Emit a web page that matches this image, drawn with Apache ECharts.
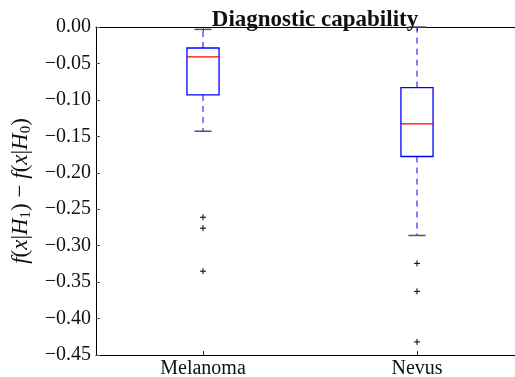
<!DOCTYPE html>
<html>
<head>
<meta charset="utf-8">
<script src="https://cdn.jsdelivr.net/npm/echarts@6/dist/echarts.min.js"></script>
<style>
  html, body { margin: 0; padding: 0; background: #fff; }
  #main { width: 515px; height: 377px; }
</style>
</head>
<body>
<div id="main"></div>
<script>
// categories on the x axis
const categories = ["Melanoma", "Nevus"];
// [lower whisker, Q1, median, Q3, upper whisker]
const melanomaStats = [-0.143, -0.0932, -0.0411, -0.0288, -0.0033];
const nevusStats = [-0.286, -0.1777, -0.133, -0.0832, 0.0];
// fliers
const melanomaOutliers = [-0.261, -0.276, -0.335];
const nevusOutliers = [-0.3243, -0.3627, -0.432];
// y axis
const yMin = -0.45;
const yMax = 0.0;
const yStep = 0.05;

const serif = "Liberation Serif, Times New Roman, serif";

const boxData = [
  [0].concat(melanomaStats),
  [1].concat(nevusStats),
];
const flierData = []
  .concat(melanomaOutliers.map((v) => [0, v]))
  .concat(nevusOutliers.map((v) => [1, v]));

function renderBox(params, api) {
  var x = api.value(0);
  var band = api.size([1, 0])[0];
  var half = band * 0.075;
  var capHalf = band * 0.04;
  var lo = api.coord([x, api.value(1)]);
  var q1 = api.coord([x, api.value(2)]);
  var med = api.coord([x, api.value(3)]);
  var q3 = api.coord([x, api.value(4)]);
  var hi = api.coord([x, api.value(5)]);
  var cx = lo[0];
  var dash = { stroke: "#0000ff", lineWidth: 1, lineDash: [6, 5] };
  var cap = { stroke: "#555", lineWidth: 1.5 };
  return {
    type: "group",
    children: [
      { type: "line", shape: { x1: cx, y1: q3[1], x2: cx, y2: hi[1] }, style: dash },
      { type: "line", shape: { x1: cx, y1: q1[1], x2: cx, y2: lo[1] }, style: dash },
      { type: "line", shape: { x1: cx - capHalf, y1: hi[1], x2: cx + capHalf, y2: hi[1] }, style: cap },
      { type: "line", shape: { x1: cx - capHalf, y1: lo[1], x2: cx + capHalf, y2: lo[1] }, style: cap },
      {
        type: "rect",
        shape: { x: cx - half, y: q3[1], width: half * 2, height: q1[1] - q3[1] },
        style: { fill: "none", stroke: "#0000ff", lineWidth: 1.3 },
      },
      { type: "line", shape: { x1: cx - half, y1: med[1], x2: cx + half, y2: med[1] }, style: { stroke: "#ff0000", lineWidth: 1.3 } },
    ],
  };
}

function renderFlier(params, api) {
  var p = api.coord([api.value(0), api.value(1)]);
  var r = 3;
  var st = { stroke: "#000", lineWidth: 1 };
  return {
    type: "group",
    children: [
      { type: "line", shape: { x1: p[0] - r, y1: p[1], x2: p[0] + r, y2: p[1] }, style: st },
      { type: "line", shape: { x1: p[0], y1: p[1] - r, x2: p[0], y2: p[1] + r }, style: st },
    ],
  };
}

var myChart = echarts.init(document.getElementById("main"));
var option = {
  backgroundColor: "#fff",
  animation: false,
  title: {
    text: "Diagnostic capability",
    left: 310,
    textAlign: "center",
    top: 4,
    textStyle: { fontFamily: serif, fontWeight: "bold", fontSize: 23, color: "#111" },
  },
  grid: {
    left: 96,
    top: 27,
    width: 428,
    height: 328,
    outerBoundsMode: "none",
    containLabel: false,
    show: false,
  },
  xAxis: [
    {
      type: "category",
      data: categories,
      boundaryGap: true,
      axisLine: { show: true, onZero: false, lineStyle: { color: "#000", width: 1 } },
      axisTick: { show: true, inside: true, alignWithLabel: true, length: 4, lineStyle: { color: "#333" } },
      axisLabel: { fontFamily: serif, fontSize: 20, color: "#111", margin: 4 },
      splitLine: { show: false },
    },
    {
      // top spine
      type: "category",
      data: categories,
      position: "top",
      boundaryGap: true,
      axisLine: { show: true, onZero: false, lineStyle: { color: "#000", width: 1 } },
      axisTick: { show: true, inside: true, alignWithLabel: true, length: 4, lineStyle: { color: "#333" } },
      axisLabel: { show: false },
      splitLine: { show: false },
    },
  ],
  yAxis: {
    type: "value",
    min: yMin,
    max: yMax,
    interval: yStep,
    axisLine: { show: true, onZero: false, lineStyle: { color: "#000", width: 1 } },
    axisTick: { show: true, inside: true, length: 4, lineStyle: { color: "#555" } },
    splitLine: { show: false },
    axisLabel: {
      fontFamily: serif,
      fontSize: 20,
      color: "#111",
      margin: 5,
      formatter: function (v) {
        var s = Math.abs(v).toFixed(2);
        return v < -1e-9 ? "\u2212" + s : s;
      },
    },
    name: "{i|f}{n|(}{i|x}{n||}{i|H}{s|1}{n|) \u2212 }{i|f}{n|(}{i|x}{n||}{i|H}{s|0}{n|)}",
    nameLocation: "middle",
    nameRotate: 90,
    nameGap: 60,
    nameTextStyle: {
      color: "#111",
      rich: {
        i: { fontFamily: serif, fontStyle: "italic", fontSize: 23, color: "#111" },
        n: { fontFamily: serif, fontSize: 23, color: "#111" },
        s: { fontFamily: serif, fontSize: 15, color: "#111", padding: [11, 0, 0, 0] },
      },
    },
  },
  series: [
    {
      type: "custom",
      renderItem: renderBox,
      data: boxData,
      encode: { x: 0, y: [1, 2, 3, 4, 5] },
      clip: false,
      z: 3,
    },
    {
      type: "custom",
      renderItem: renderFlier,
      data: flierData,
      encode: { x: 0, y: 1 },
      z: 4,
    },
  ],
};
myChart.setOption(option);
</script>
</body>
</html>
